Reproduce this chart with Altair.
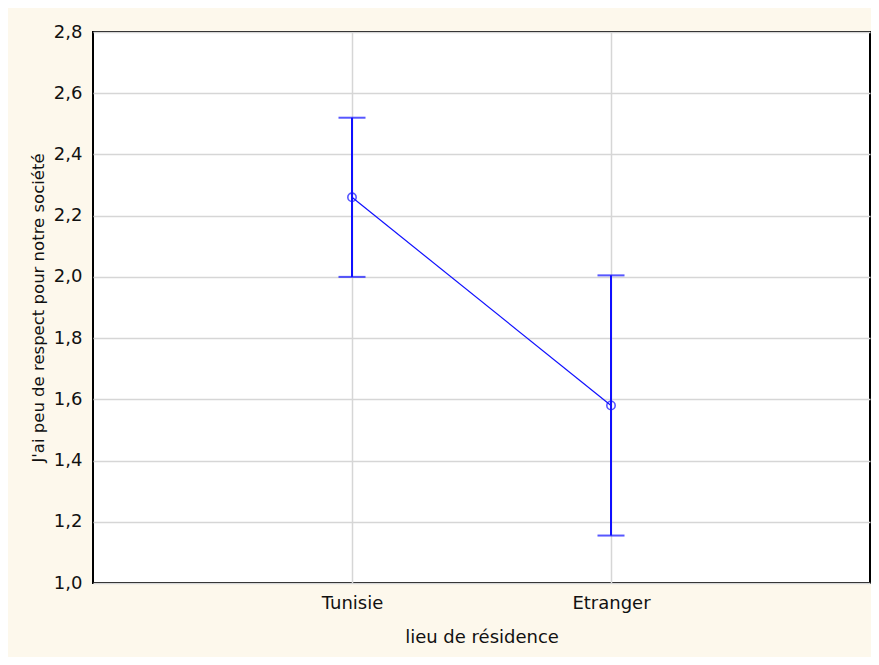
import altair as alt
import pandas as pd

categories = ["Tunisie", "Etranger"]
means = [2.26, 1.58]
lower = [2.00, 1.155]
upper = [2.52, 2.005]
y_ticks = [1.0, 1.2, 1.4, 1.6, 1.8, 2.0, 2.2, 2.4, 2.6, 2.8]

df = pd.DataFrame({"cat": categories, "mean": means, "lo": lower, "hi": upper})

BLUE = "#1010ff"
FONT = "DejaVu Sans"

x_enc = alt.X(
    "cat:N",
    sort=categories,
    scale=alt.Scale(type="point", padding=1),
    axis=alt.Axis(
        title="lieu de résidence",
        labelAngle=0,
        grid=True,
        gridColor="#d6d6d6",
        gridWidth=1.5,
        domain=False,
        ticks=False,
        labelPadding=11,
        labelFontSize=18,
        titleFontSize=18,
        titleFontWeight="normal",
        titlePadding=16,
        labelColor="#111111",
        titleColor="#111111",
        labelFont=FONT,
        titleFont=FONT,
    ),
)

y_scale = alt.Scale(domain=[1.0, 2.8], nice=False, zero=False)
y_axis = alt.Axis(
    title="J'ai peu de respect pour notre société",
    values=y_ticks,
    labelExpr="replace(format(datum.value, '.1f'), '.', ',')",
    grid=True,
    gridColor="#d6d6d6",
    gridWidth=1.5,
    domain=False,
    ticks=False,
    labelPadding=11,
    labelFontSize=18,
    titleFontSize=16.5,
    titleFontWeight="normal",
    titlePadding=7,
    labelColor="#111111",
    titleColor="#111111",
    labelFont=FONT,
    titleFont=FONT,
)

base = alt.Chart(df)

line = base.mark_line(color=BLUE, strokeWidth=1.2).encode(
    x=x_enc,
    y=alt.Y("mean:Q", scale=y_scale, axis=y_axis),
)

rule = base.mark_rule(color=BLUE, strokeWidth=2).encode(
    x=x_enc,
    y=alt.Y("lo:Q", scale=y_scale, axis=y_axis),
    y2="hi:Q",
)

cap_lo = base.mark_tick(color=BLUE, size=27, thickness=2).encode(
    x=x_enc,
    y=alt.Y("lo:Q", scale=y_scale, axis=y_axis),
)
cap_hi = base.mark_tick(color=BLUE, size=27, thickness=2).encode(
    x=x_enc,
    y=alt.Y("hi:Q", scale=y_scale, axis=y_axis),
)

points = base.mark_point(
    color=BLUE, shape="circle", filled=False, size=70, strokeWidth=1.6
).encode(
    x=x_enc,
    y=alt.Y("mean:Q", scale=y_scale, axis=y_axis),
)

chart = (
    alt.layer(rule, cap_lo, cap_hi, line, points)
    .properties(
        width=777,
        height=551,
        autosize=alt.AutoSizeParams(type="none"),
        padding={"left": 85, "top": 24, "right": 1, "bottom": 74},
        background="#fdf8ec",
    )
    .configure_view(stroke="black", strokeWidth=2, fill="white")
)

chart.save("out.html", embed_options={"renderer": "svg", "actions": False})
